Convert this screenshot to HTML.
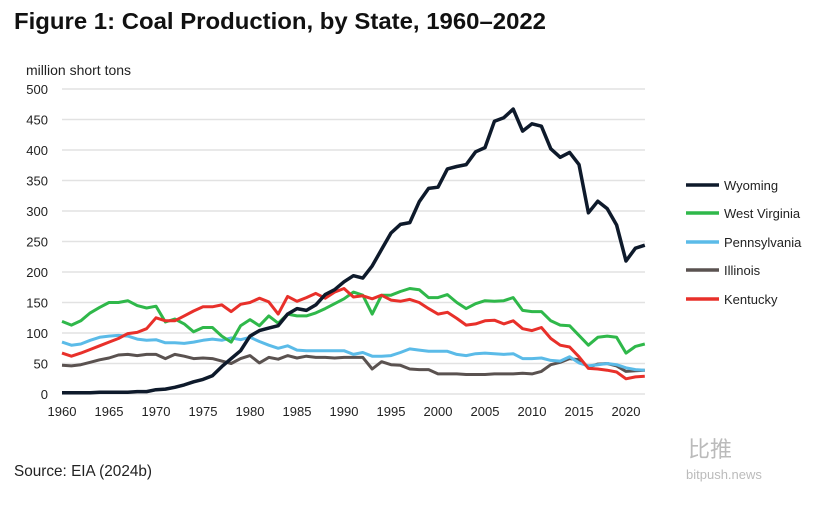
<!DOCTYPE html><html><head><meta charset="utf-8"><style>
body{margin:0;background:#fff;width:813px;height:500px;overflow:hidden;font-family:"Liberation Sans",sans-serif}
</style></head><body>
<svg id="s" width="813" height="500" xmlns="http://www.w3.org/2000/svg" font-family="Liberation Sans, sans-serif">
<text x="14" y="29" font-size="23" font-weight="bold" fill="#111" textLength="532" lengthAdjust="spacingAndGlyphs">Figure 1: Coal Production, by State, 1960–2022</text>
<text x="26" y="75" font-size="14" fill="#222">million short tons</text>
<text x="14" y="476" font-size="16" fill="#222" textLength="138" lengthAdjust="spacingAndGlyphs">Source: EIA (2024b)</text>
<text x="688" y="457" font-size="22" fill="#bbb" font-family="Noto Sans CJK SC, sans-serif">比推</text>
<text x="686" y="479" font-size="13" fill="#bbb">bitpush.news</text>
<g id="g"></g>
</svg>
<script>
var g=document.getElementById('g'),h='';
function Y(v){return 394-v*0.61;}function X(y){return 62+(y-1960)*9.4;}
for(var v=0;v<=500;v+=50){h+='<line x1="62" x2="645" y1="'+Y(v)+'" y2="'+Y(v)+'" stroke="#e2e2e2" stroke-width="1.5"/>';
h+='<text x="48" y="'+(Y(v)+5)+'" font-size="13" text-anchor="end" fill="#222">'+v+'</text>';}
for(var y=1960;y<=2020;y+=5)h+='<text x="'+X(y)+'" y="416" font-size="13" text-anchor="middle" fill="#222">'+y+'</text>';
var D={
il:["#5a5250",[47,46,48,52,56,59,64,65,63,65,65,58,65,62,58,59,58,54,50,58,63,51,60,57,63,59,62,60,60,59,60,60,60,41,53,48,47,41,40,40,33,33,33,32,32,32,33,33,33,34,33,37,48,52,58,56,44,49,50,46,37,38,39]],
pa:["#5bbbe8",[85,80,82,88,93,95,96,95,90,88,89,84,84,83,85,88,90,88,92,89,93,86,80,75,79,72,71,71,71,71,71,65,68,62,62,63,68,74,72,70,70,70,65,63,66,67,66,65,66,58,58,59,55,54,61,51,46,48,50,48,43,40,39]],
wv:["#2fb84a",[119,113,120,133,142,150,150,153,145,141,144,118,123,115,102,109,109,95,85,112,122,112,128,116,131,128,128,133,140,148,156,167,162,131,162,162,168,173,171,158,158,163,150,140,148,153,152,153,158,137,135,135,120,113,112,96,80,93,95,93,67,78,82]],
ky:["#e8302a",[67,62,67,73,79,85,91,99,101,107,125,120,120,128,136,143,143,146,135,147,150,157,151,131,160,152,158,165,157,167,173,159,161,156,162,154,152,155,150,140,131,134,124,113,115,120,121,115,120,107,104,109,91,80,77,61,42,41,39,36,25,28,29]],
wy:["#0e1a2b",[2,2,2,2,3,3,3,3,4,4,7,8,11,15,20,24,30,45,58,71,95,104,108,112,131,140,137,146,163,171,184,194,190,210,237,264,278,281,315,337,339,369,373,376,397,404,447,453,467,431,443,439,402,388,396,376,297,316,304,277,218,239,244]]};
for(var k in D){var p=D[k][1].map(function(v,i){return X(1960+i).toFixed(1)+','+Y(v).toFixed(1)}).join(' ');
h+='<polyline points="'+p+'" fill="none" stroke="'+D[k][0]+'" stroke-width="'+(k=='wy'?3.5:3)+'" stroke-linejoin="round"/>';}
var L=[["Wyoming","#0e1a2b",185],["West Virginia","#2fb84a",213],["Pennsylvania","#5bbbe8",242],["Illinois","#5a5250",270],["Kentucky","#e8302a",299]];
L.forEach(function(l){h+='<line x1="686" x2="719" y1="'+l[2]+'" y2="'+l[2]+'" stroke="'+l[1]+'" stroke-width="3.5"/><text x="724" y="'+(l[2]+5)+'" font-size="13" fill="#222">'+l[0]+'</text>';});
g.innerHTML=h;
</script>
</body></html>
